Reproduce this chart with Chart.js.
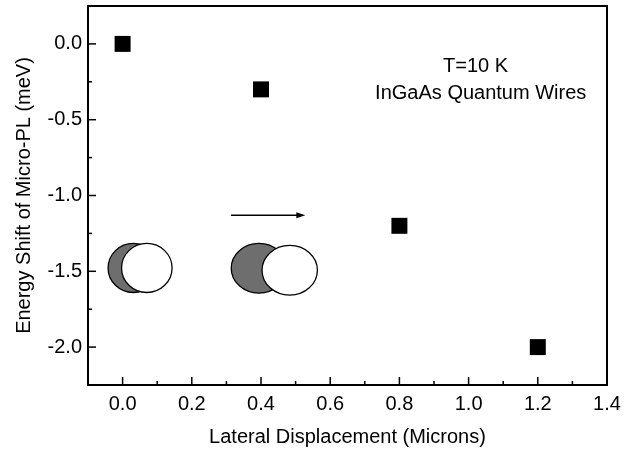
<!DOCTYPE html>
<html>
<head>
<meta charset="utf-8">
<script src="https://cdn.jsdelivr.net/npm/chart.js@4/dist/chart.umd.min.js"></script>
<style>
  body { margin: 0; background: #fff; }
  #wrap { width: 636px; height: 451px; }
</style>
</head>
<body>
<div id="wrap"><canvas id="chart" width="636" height="451"></canvas></div>
<script>
// lateral displacement (microns) vs energy shift (meV)
const displacement = [0.0, 0.4, 0.8, 1.2];
const energyShift = [0.0, -0.3, -1.2, -2.0];

const xTicks = [0.0, 0.2, 0.4, 0.6, 0.8, 1.0, 1.2, 1.4];
const yTicks = [-2.0, -1.5, -1.0, -0.5, 0.0];

const xTitle = 'Lateral Displacement (Microns)';
const yTitle = 'Energy Shift of Micro-PL (meV)';
const noteLines = ['T=10 K', 'InGaAs Quantum Wires'];

const FONT = '"Liberation Sans", Arial, Helvetica, sans-serif';

// decorations placed in data units
const notes = [
  { text: noteLines[0], x: 1.02, y: -0.152 },
  { text: noteLines[1], x: 1.035, y: -0.324 }
];
const ellipses = [
  { x: 0.031, y: -1.478, rx: 0.073, ry: 0.162, fill: '#6e6e6e' },
  { x: 0.070, y: -1.478, rx: 0.073, ry: 0.162, fill: '#ffffff' },
  { x: 0.394, y: -1.480, rx: 0.080, ry: 0.164, fill: '#6e6e6e' },
  { x: 0.483, y: -1.493, rx: 0.080, ry: 0.164, fill: '#ffffff' }
];
const arrow = { x0: 0.313, x1: 0.528, y: -1.13 };

const frame = {
  id: 'frame',
  afterDatasetsDraw(chart) {
    const { ctx, chartArea: a, scales: { x, y } } = chart;
    ctx.save();

    // ellipses
    ellipses.forEach(e => {
      const cx = x.getPixelForValue(e.x), cy = y.getPixelForValue(e.y);
      const rx = Math.abs(x.getPixelForValue(e.x + e.rx) - cx);
      const ry = Math.abs(y.getPixelForValue(e.y + e.ry) - cy);
      ctx.beginPath();
      ctx.ellipse(cx, cy, rx, ry, 0, 0, Math.PI * 2);
      ctx.fillStyle = e.fill;
      ctx.fill();
      ctx.lineWidth = 1.3;
      ctx.strokeStyle = '#000';
      ctx.stroke();
    });

    // arrow
    const ax0 = x.getPixelForValue(arrow.x0), ax1 = x.getPixelForValue(arrow.x1);
    const ay = y.getPixelForValue(arrow.y);
    ctx.strokeStyle = '#000';
    ctx.fillStyle = '#000';
    ctx.lineWidth = 1.5;
    ctx.beginPath();
    ctx.moveTo(ax0, ay);
    ctx.lineTo(ax1 - 6, ay);
    ctx.stroke();
    ctx.beginPath();
    ctx.moveTo(ax1, ay);
    ctx.lineTo(ax1 - 9, ay - 3);
    ctx.lineTo(ax1 - 9, ay + 3);
    ctx.closePath();
    ctx.fill();

    // text notes
    ctx.font = '20px ' + FONT;
    ctx.textAlign = 'center';
    ctx.textBaseline = 'middle';
    notes.forEach(n => {
      ctx.fillText(n.text, x.getPixelForValue(n.x), y.getPixelForValue(n.y));
    });

    // inward ticks
    ctx.lineWidth = 1.5;
    for (let v = -0.1; v <= 1.4001; v += 0.1) {
      const px = x.getPixelForValue(v);
      if (px <= a.left + 1 || px >= a.right - 1) continue;
      const major = Math.abs(Math.round(v * 10) % 2) === 0;
      const len = major ? 8 : 4;
      ctx.beginPath();
      ctx.moveTo(px, a.bottom);
      ctx.lineTo(px, a.bottom - len);
      ctx.stroke();
    }
    for (let v = -2.25; v <= 0.2501; v += 0.25) {
      const py = y.getPixelForValue(v);
      if (py <= a.top + 1 || py >= a.bottom - 1) continue;
      const major = Math.abs(Math.round(v * 4) % 2) === 0;
      const len = major ? 8 : 4;
      ctx.beginPath();
      ctx.moveTo(a.left, py);
      ctx.lineTo(a.left + len, py);
      ctx.stroke();
    }

    // box
    ctx.lineWidth = 2;
    ctx.strokeRect(a.left, a.top, a.right - a.left, a.bottom - a.top);
    ctx.restore();
  }
};

new Chart(document.getElementById('chart'), {
  type: 'scatter',
  data: {
    datasets: [{
      label: 'Energy shift',
      data: displacement.map((d, i) => ({ x: d, y: energyShift[i] })),
      pointStyle: 'rect',
      pointRadius: 11.3,
      pointHoverRadius: 11.3,
      backgroundColor: '#000',
      borderColor: '#000',
      borderWidth: 0
    }]
  },
  options: {
    responsive: false,
    animation: false,
    layout: { autoPadding: false, padding: { left: 0, right: 29, top: 6, bottom: 0 } },
    plugins: { legend: { display: false }, tooltip: { enabled: false } },
    scales: {
      x: {
        type: 'linear',
        min: -0.1,
        max: 1.4,
        afterBuildTicks(scale) { scale.ticks = xTicks.map(v => ({ value: v })); },
        afterFit(scale) {
          scale.height = 66;
          scale.paddingLeft = 0;
          scale.paddingRight = 0;
        },
        grid: { drawOnChartArea: false, drawTicks: false },
        border: { display: false },
        ticks: {
          padding: 7,
          color: '#000',
          font: { family: FONT, size: 20 },
          callback: v => v.toFixed(1)
        },
        title: {
          display: true,
          text: xTitle,
          color: '#000',
          font: { family: FONT, size: 20 },
          padding: { top: 4, bottom: 2 }
        }
      },
      y: {
        type: 'linear',
        min: -2.25,
        max: 0.25,
        afterBuildTicks(scale) { scale.ticks = yTicks.map(v => ({ value: v })); },
        afterFit(scale) {
          scale.width = 88;
          scale.paddingTop = 0;
          scale.paddingBottom = 0;
        },
        grid: { drawOnChartArea: false, drawTicks: false },
        border: { display: false },
        ticks: {
          padding: 6,
          color: '#000',
          font: { family: FONT, size: 20 },
          callback: v => v.toFixed(1)
        },
        title: {
          display: true,
          text: yTitle,
          color: '#000',
          font: { family: FONT, size: 20 },
          padding: { top: 12, bottom: 2 }
        }
      }
    }
  },
  plugins: [frame]
});
</script>
</body>
</html>
